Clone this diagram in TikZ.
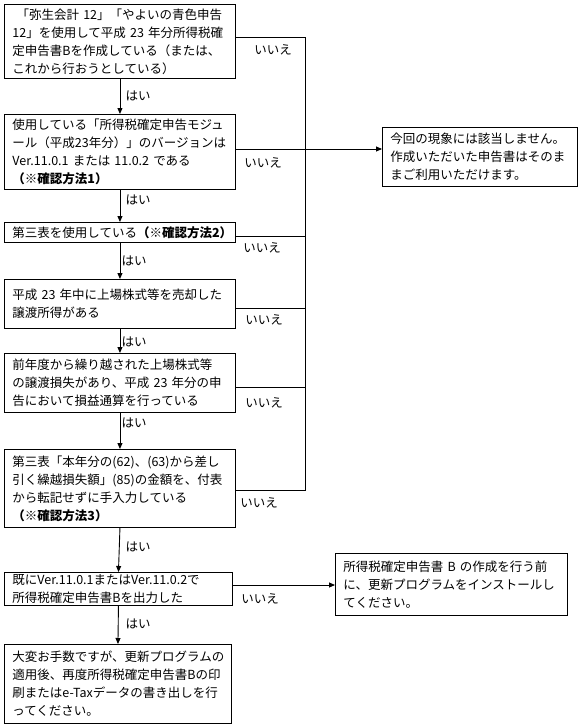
\documentclass[tikz,border=0pt]{standalone}
\usepackage{fontspec}
\setmainfont{Noto Sans CJK JP}
\usetikzlibrary{arrows.meta}
\begin{document}
\begin{tikzpicture}[x=1pt,y=-1pt,
  box/.style 2 args={draw, line width=0.9pt, anchor=north west, align=left,
    inner xsep=8pt, inner ysep=0pt, text width=#1, minimum height=#2,
    font=\fontsize{12.5}{18}\selectfont},
  lab/.style={font=\fontsize{12.5}{15}\selectfont, inner sep=0pt},
  arr/.style={line width=0.9pt, -{Triangle[length=6pt,width=5pt]}},
  ln/.style={line width=0.9pt}]
\useasboundingbox (0,0) rectangle (586,725);
\node[box={215pt}{74pt}] (b1) at (4,4) {\ 「弥生会計 12」「やよいの青色申告\\12」を使用して平成 23 年分所得税確\\定申告書Bを作成している（または、\\これから行おうとしている）};
\node[box={215pt}{75pt}] (b2) at (4,114) {使用している「所得税確定申告モジュ\\ール（平成23年分）」のバージョンは\\Ver.11.0.1 または 11.0.2 である\\\textbf{（※確認方法1）}};
\node[box={215pt}{20pt}] (b3) at (4,222) {第三表を使用している\textbf{（※確認方法2）}};
\node[box={215pt}{49pt}] (b4) at (4,279) {平成 23 年中に上場株式等を売却した\\譲渡所得がある};
\node[box={215pt}{59pt}] (b5) at (4,353) {前年度から繰り越された上場株式等\\の譲渡損失があり、平成 23 年分の申\\告において損益通算を行っている};
\node[box={215pt}{78pt}] (b6) at (4,449) {第三表「本年分の(62)、(63)から差し\\引く繰越損失額」(85)の金額を、付表\\から転記せずに手入力している\\\textbf{（※確認方法3）}};
\node[box={212pt}{33pt}] (b7) at (4,572) {既にVer.11.0.1またはVer.11.0.2で\\所得税確定申告書Bを出力した};
\node[box={211pt}{79pt}] (b8) at (4,644) {大変お手数ですが、更新プログラムの\\適用後、再度所得税確定申告書Bの印\\刷またはe-Taxデータの書き出しを行\\ってください。};
\node[box={179pt}{59pt}] (r1) at (382,127) {今回の現象には該当しません。\\作成いただいた申告書はそのま\\まご利用いただけます。};
\node[box={216pt}{62pt}] (r2) at (335,553) {所得税確定申告書 B の作成を行う前\\に、更新プログラムをインストールし\\てください。};
\coordinate (j1) at (305,37);
\coordinate (j2) at (305,149);
\coordinate (j3) at (305,236);
\coordinate (j4) at (305,308);
\coordinate (j5) at (305,387);
\coordinate (j6) at (305,490);
\coordinate (j7) at (300,585);
\draw[ln] (b1.east |- j1) -- (j1) -- (j6) -- (b6.east |- j6);
\draw[arr] (b2.east |- j2) -- (r1.west |- j2);
\draw[ln] (b3.east |- j3) -- (j3);
\draw[ln] (b4.east |- j4) -- (j4);
\draw[ln] (b5.east |- j5) -- (j5);
\draw[arr] (b7.east |- j7) -- (r2.west |- j7);
\draw[arr] (b1.south) -- (b2.north);
\draw[arr] (b2.south) -- (b3.north);
\draw[arr] (b3.south) -- (b4.north);
\draw[arr] (b4.south) -- (b5.north);
\draw[arr] (b5.south) -- (b6.north);
\draw[arr] (b6.south) -- (b7.north);
\draw[arr] (b7.south) -- (b8.north);
\node[lab] (n1) at (273,50) {いいえ};
\node[lab] (n2) at (263,163) {いいえ};
\node[lab] (n3) at (262,248) {いいえ};
\node[lab] (n4) at (264,320) {いいえ};
\node[lab] (n5) at (264,403) {いいえ};
\node[lab] (n6) at (259,503) {いいえ};
\node[lab] (n7) at (260,599) {いいえ};
\node[lab] (y1) at (138,96) {はい};
\node[lab] (y2) at (138,200) {はい};
\node[lab] (y3) at (134,261) {はい};
\node[lab] (y4) at (134,342) {はい};
\node[lab] (y5) at (134,423) {はい};
\node[lab] (y6) at (138,547) {はい};
\node[lab] (y7) at (138,624) {はい};
\end{tikzpicture}
\end{document}
